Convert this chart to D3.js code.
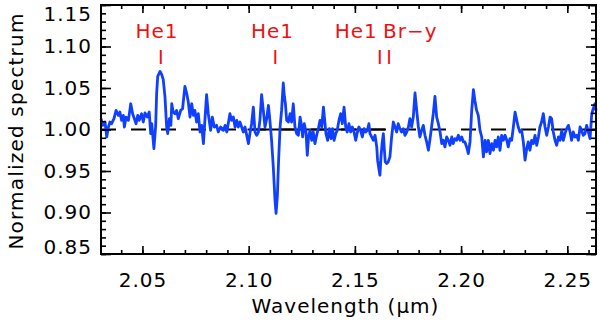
<!DOCTYPE html>
<html>
<head>
<meta charset="utf-8">
<script src="https://cdn.jsdelivr.net/npm/d3@7"></script>
<style>
  body { margin: 0; background: #fff; }
  text { font-family: "DejaVu Sans", sans-serif; }
</style>
</head>
<body>
<div id="chart"></div>
<script>
// spectrum
const wavelength = [
  2.0305, 2.0313, 2.0324, 2.0332, 2.0340, 2.0347, 2.0355, 2.0366, 2.0376, 2.0387,
  2.0394, 2.0402, 2.0410, 2.0415, 2.0423, 2.0434, 2.0445, 2.0454, 2.0462, 2.0470,
  2.0478, 2.0485, 2.0496, 2.0504, 2.0512, 2.0523, 2.0532, 2.0539, 2.0544, 2.0554,
  2.0562, 2.0567, 2.0572, 2.0583, 2.0591, 2.0598, 2.0606, 2.0614, 2.0619, 2.0627,
  2.0634, 2.0638, 2.0645, 2.0653, 2.0661, 2.0669, 2.0680, 2.0689, 2.0700, 2.0708,
  2.0716, 2.0724, 2.0732, 2.0740, 2.0747, 2.0755, 2.0763, 2.0771, 2.0779, 2.0787,
  2.0795, 2.0802, 2.0810, 2.0821, 2.0829, 2.0838, 2.0849, 2.0857, 2.0868, 2.0881,
  2.0889, 2.0897, 2.0912, 2.0920, 2.0928, 2.0936, 2.0944, 2.0951, 2.0959, 2.0975,
  2.0983, 2.0999, 2.1006, 2.1014, 2.1022,
  2.1030, 2.1038, 2.1046, 2.1053, 2.1061, 2.1069, 2.1077, 2.1085, 2.1093, 2.1100,
  2.1108, 2.1116, 2.1124, 2.1129, 2.1135, 2.1141, 2.1148, 2.1155, 2.1163, 2.1168,
  2.1173, 2.1179, 2.1187, 2.1195, 2.1202, 2.1210, 2.1218, 2.1226, 2.1234, 2.1242,
  2.1250, 2.1254, 2.1262, 2.1270, 2.1276, 2.1282, 2.1289, 2.1297, 2.1304, 2.1312,
  2.1320, 2.1328, 2.1336, 2.1344, 2.1352, 2.1358, 2.1364, 2.1372, 2.1380, 2.1388,
  2.1395, 2.1402, 2.1410, 2.1417, 2.1425, 2.1433, 2.1441, 2.1449, 2.1457, 2.1464,
  2.1472, 2.1480, 2.1488, 2.1496, 2.1504, 2.1512, 2.1519, 2.1527, 2.1535, 2.1543,
  2.1551, 2.1559, 2.1566, 2.1571, 2.1579, 2.1587, 2.1595, 2.1603, 2.1607, 2.1614,
  2.1618, 2.1623, 2.1628, 2.1634, 2.1639, 2.1643, 2.1650, 2.1657, 2.1665, 2.1673,
  2.1681, 2.1689, 2.1697, 2.1704, 2.1712, 2.1720, 2.1728, 2.1736, 2.1744, 2.1752,
  2.1759, 2.1767, 2.1775, 2.1783,
  2.1791, 2.1799, 2.1806, 2.1814, 2.1822, 2.1830, 2.1838, 2.1846, 2.1854, 2.1861,
  2.1869, 2.1877, 2.1885, 2.1893, 2.1901, 2.1909, 2.1916, 2.1924, 2.1932, 2.1940,
  2.1948, 2.1956, 2.1963, 2.1971, 2.1979, 2.1987, 2.1995, 2.2003, 2.2011, 2.2018,
  2.2026, 2.2034, 2.2042, 2.2050, 2.2058, 2.2065, 2.2073, 2.2081, 2.2089, 2.2097,
  2.2105, 2.2113, 2.2120, 2.2128, 2.2136, 2.2144, 2.2152, 2.2160, 2.2167, 2.2175,
  2.2183, 2.2191, 2.2199, 2.2207, 2.2215, 2.2222, 2.2230, 2.2238, 2.2246, 2.2254,
  2.2262, 2.2269, 2.2277, 2.2285, 2.2293, 2.2301, 2.2309, 2.2316, 2.2324, 2.2332,
  2.2340, 2.2348, 2.2356, 2.2364, 2.2371, 2.2379, 2.2387, 2.2395, 2.2403, 2.2411,
  2.2419, 2.2426, 2.2434, 2.2442, 2.2450, 2.2458, 2.2466, 2.2474, 2.2481, 2.2489,
  2.2497, 2.2505, 2.2513, 2.2520, 2.2528, 2.2536, 2.2544, 2.2552, 2.2560, 2.2567,
  2.2575, 2.2583, 2.2591, 2.2599, 2.2607, 2.2615, 2.2622, 2.2630, 2.2635
];
const flux = [
  1.013, 1.005, 1.009, 0.991, 1.003, 1.009, 1.007, 1.013, 1.023, 1.017,
  1.021, 1.011, 1.017, 1.003, 1.015, 1.011, 1.031, 1.019, 1.013, 1.007,
  1.017, 1.011, 1.019, 1.009, 1.020, 1.015, 1.021, 0.995, 1.007, 0.977,
  1.003, 1.044, 1.064, 1.070, 1.066, 1.060, 1.040, 1.003, 0.995, 1.013,
  1.005, 1.031, 1.021, 1.019, 1.023, 1.013, 1.023, 1.025, 1.052, 1.044,
  1.033, 1.015, 1.031, 1.017, 1.023, 1.009, 1.019, 0.997, 1.005, 0.983,
  1.015, 1.042, 1.019, 0.999, 1.015, 1.003, 1.005, 0.997, 1.003, 0.999,
  1.005, 0.997, 1.019, 1.011, 1.015, 1.003, 1.011, 1.003, 1.009, 0.997,
  1.003, 0.983, 0.995, 1.007, 1.027,
  0.997, 0.993, 0.997, 1.011, 1.042, 1.023, 1.003, 1.013, 1.029, 1.011,
  0.987, 0.955, 0.915, 0.899, 0.919, 0.963, 1.003, 1.023, 1.056, 1.040,
  1.031, 1.011, 1.009, 1.019, 1.009, 1.031, 1.003, 0.995, 0.993, 1.015,
  1.003, 0.991, 1.007, 0.997, 0.969, 0.991, 0.999, 0.987, 0.997, 0.983,
  0.993, 1.001, 1.011, 1.003, 1.027, 1.011, 0.995, 0.987, 1.001, 0.989,
  1.001, 0.987, 0.995, 0.999, 1.011, 1.019, 1.007, 1.027, 1.003, 0.997,
  1.007, 0.997, 1.003, 0.997, 0.987, 0.997, 1.003, 0.999, 0.991, 1.001,
  0.997, 0.999, 1.007, 0.995, 0.991, 0.987, 0.993, 0.979, 0.963, 0.951,
  0.945, 0.967, 0.983, 0.995, 0.975, 0.961, 0.959, 0.961, 0.967, 0.991,
  1.009, 1.003, 0.997, 1.007, 1.001, 0.997, 1.001, 0.993, 0.997, 1.003,
  1.013, 1.003, 1.015, 1.044,
  1.023, 1.003, 0.991, 0.999, 1.005, 0.993, 0.985, 0.975, 0.989, 1.003,
  1.019, 1.040, 1.015, 1.007, 0.997, 0.983, 0.987, 0.979, 0.991, 0.987,
  0.981, 0.991, 0.983, 0.989, 0.987, 0.993, 0.987, 0.991, 0.985, 0.985,
  0.979, 0.971, 0.985, 1.023, 1.048, 1.035, 1.023, 1.017, 0.999, 0.991,
  0.967, 0.987, 0.973, 0.987, 0.971, 0.983, 0.975, 0.987, 0.979, 0.991,
  0.975, 0.993, 0.987, 0.993, 0.987, 0.979, 0.989, 0.987, 1.003, 1.021,
  1.011, 1.003, 0.997, 0.999, 0.985, 0.963, 0.977, 0.985, 0.975, 0.987,
  0.983, 0.993, 0.981, 0.991, 1.003, 1.009, 1.019, 1.003, 0.993, 1.003,
  1.015, 1.013, 0.997, 0.987, 0.981, 0.991, 0.987, 0.999, 0.987, 0.995,
  1.001, 1.005, 0.997, 0.987, 0.997, 0.991, 0.993, 0.987, 1.003, 0.999,
  0.993, 0.995, 1.005, 0.997, 0.989, 1.019, 1.025, 1.031, 1.023
];

// line identifications
const lineWl = [2.0587, 2.1126, 2.1617, 2.1661];
const lineName = ["He1", "He1", "He1", "Br\u2212y"];
const lineAnchor = ["middle", "middle", "end", "start"];
const lineShift = [-4, -3, -2, -6];

// stretch where the 1.00 level is drawn solid
const solidRange = [2.0995, 2.1642];

const xTicks = [2.05, 2.10, 2.15, 2.20, 2.25];
const yTicks = [0.85, 0.90, 0.95, 1.00, 1.05, 1.10, 1.15];
const xDomain = [2.0305, 2.2635];
const yDomain = [0.85, 1.15];

// set the dimensions and margins of the graph
const margin = { top: 5, right: 4, bottom: 72, left: 101 },
    width = 600 - margin.left - margin.right,
    height = 326 - margin.top - margin.bottom;

const svg = d3.select("#chart")
    .append("svg")
    .attr("width", 600)
    .attr("height", 326)
    .append("g")
    .attr("transform", `translate(${margin.left},${margin.top})`);

const x = d3.scaleLinear().domain(xDomain).range([0, width]);
const y = d3.scaleLinear().domain(yDomain).range([height, 0]);

const xMinor = d3.range(2.04, 2.265, 0.01).map(d => +d.toFixed(2)).filter(d => d > xDomain[0] && d < xDomain[1]);
const yMinor = d3.range(0.85, 1.155, 0.01).map(d => +d.toFixed(2));

// reference level at 1.00
svg.append("line")
    .attr("x1", 0).attr("x2", width)
    .attr("y1", y(1)).attr("y2", y(1))
    .attr("stroke", "black")
    .attr("stroke-width", 2)
    .attr("stroke-dasharray", "15,15");
svg.append("line")
    .attr("x1", x(solidRange[0])).attr("x2", x(solidRange[1]))
    .attr("y1", y(1)).attr("y2", y(1))
    .attr("stroke", "black")
    .attr("stroke-width", 2);

// the spectrum
const data = wavelength.map((w, i) => ({ w: w, f: flux[i] }));
svg.append("path")
    .datum(data)
    .attr("fill", "none")
    .attr("stroke", "#1040ff")
    .attr("stroke-width", 2.8)
    .attr("stroke-linejoin", "round")
    .attr("d", d3.line().x(d => x(d.w)).y(d => y(d.f)));

// axes: ticks pointing inwards on all four sides
function styleAxis(g) {
    g.select(".domain").remove();
    g.selectAll(".tick line").attr("stroke", "black").attr("stroke-width", 1.6);
}

svg.append("g").attr("transform", `translate(0,${height})`)
    .call(d3.axisBottom(x).tickValues(xMinor).tickSize(-4).tickFormat(""))
    .call(styleAxis);
svg.append("g")
    .call(d3.axisTop(x).tickValues(xMinor).tickSize(-4).tickFormat(""))
    .call(styleAxis);
svg.append("g").attr("transform", `translate(0,${height})`)
    .call(d3.axisBottom(x).tickValues(xTicks).tickSize(-8).tickFormat(d3.format(".2f")))
    .call(styleAxis)
    .call(g => g.selectAll("text").attr("y", 19));
svg.append("g")
    .call(d3.axisTop(x).tickValues(xTicks).tickSize(-8).tickFormat(""))
    .call(styleAxis);

svg.append("g")
    .call(d3.axisLeft(y).tickValues(yMinor).tickSize(-5).tickFormat(""))
    .call(styleAxis);
svg.append("g").attr("transform", `translate(${width},0)`)
    .call(d3.axisRight(y).tickValues(yMinor).tickSize(-5).tickFormat(""))
    .call(styleAxis);
svg.append("g")
    .call(d3.axisLeft(y).tickValues(yTicks).tickSize(-10).tickPadding(9).tickFormat(d3.format(".2f")))
    .call(styleAxis)
    // keep the end labels inside the axis range
    .call(g => g.selectAll("text").attr("y", d => d === yDomain[1] ? 9 : d === yDomain[0] ? -7 : 0));
svg.append("g").attr("transform", `translate(${width},0)`)
    .call(d3.axisRight(y).tickValues(yTicks).tickSize(-10).tickFormat(""))
    .call(styleAxis);

svg.selectAll(".tick text")
    .attr("fill", "black")
    .style("font-family", "DejaVu Sans")
    .style("font-size", "20px")
    .style("letter-spacing", "1px");

// frame
svg.append("rect")
    .attr("width", width).attr("height", height)
    .attr("fill", "none")
    .attr("stroke", "black")
    .attr("stroke-width", 2);

// line labels
const lab = svg.append("g").selectAll("g")
    .data(lineWl)
    .join("g")
    .attr("transform", d => `translate(${x(d)},0)`);
lab.append("text")
    .attr("x", (d, i) => lineShift[i])
    .attr("y", 33)
    .attr("text-anchor", (d, i) => lineAnchor[i])
    .attr("fill", "#ee1111")
    .style("font-size", "20px")
    .style("letter-spacing", "1px")
    .text((d, i) => lineName[i]);
lab.append("text")
    .attr("y", 59)
    .attr("text-anchor", "middle")
    .attr("fill", "#ee1111")
    .style("font-size", "19px")
    .text("I");

// axis titles
svg.append("text")
    .attr("x", width / 2 - 3)
    .attr("y", height + 59)
    .attr("text-anchor", "middle")
    .style("font-size", "20px")
    .style("letter-spacing", "1px")
    .text("Wavelength (\u03bcm)");

svg.append("text")
    .attr("transform", "rotate(-90)")
    .attr("x", -126)
    .attr("y", -78)
    .attr("text-anchor", "middle")
    .style("font-size", "20px")
    .style("letter-spacing", "1.2px")
    .text("Normalized spectrum");
</script>
</body>
</html>
